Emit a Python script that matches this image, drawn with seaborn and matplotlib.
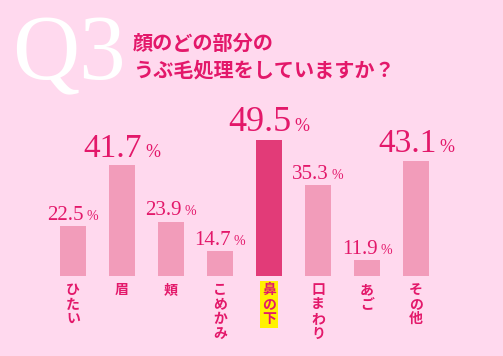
import matplotlib
matplotlib.use("Agg")
import matplotlib.pyplot as plt
import seaborn as sns
from matplotlib.offsetbox import TextArea, HPacker, AnnotationBbox

categories = ["ひたい", "眉", "頬", "こめかみ", "鼻の下", "口まわり", "あご", "その他"]
values = [22.5, 41.7, 23.9, 14.7, 49.5, 35.3, 11.9, 43.1]
highlight = "鼻の下"
title_q = "Q3"
title_lines = ["顔のどの部分の", "うぶ毛処理をしていますか？"]

BG = "#ffd9ee"
BAR = "#f29cba"
BAR_HI = "#e23b78"
TXT = "#e3186a"

sns.set_theme(style="white")
plt.rcParams["font.family"] = ["Noto Sans CJK JP", "DejaVu Sans"]

fig = plt.figure(figsize=(5.03, 3.56), dpi=100)
fig.patch.set_facecolor(BG)
ax = fig.add_axes([48.5 / 503, 80 / 356, 392 / 503, 153.4 / 356])
ax.set_facecolor(BG)

palette = {c: (BAR_HI if c == highlight else BAR) for c in categories}
sns.barplot(x=categories, y=values, hue=categories, palette=palette,
            legend=False, width=0.53, saturation=1, ax=ax, linewidth=0)

ax.set_xlim(-0.5, len(categories) - 0.5)
ax.set_ylim(6.9, 55)
for s in ax.spines.values():
    s.set_visible(False)
ax.set_yticks([])
ax.set_xticks([])
ax.set_xlabel("")
ax.set_ylabel("")

serif = "Liberation Serif"
for i, v in enumerate(values):
    big = v > 40
    num_size = (26 if v == max(values) else 24) if big else 15
    pct_size = 13 if big else 10
    t1 = TextArea(f"{v:.1f}", textprops=dict(family=serif, size=num_size, color=TXT))
    t2 = TextArea("%", textprops=dict(family=serif, size=pct_size, color=TXT))
    box = HPacker(children=[t1, t2], align="baseline", pad=0, sep=2)
    ab = AnnotationBbox(box, (i, v), xybox=(0, 1), xycoords="data",
                        boxcoords="offset points", box_alignment=(0.5, 0.0),
                        frameon=False, pad=0)
    ax.add_artist(ab)

for i, c in enumerate(categories):
    label = "\n".join(list(c))
    kw = dict(ha="center", va="top", fontsize=10, fontweight="bold",
              color=TXT, linespacing=1.05)
    if c == highlight:
        kw["bbox"] = dict(boxstyle="square,pad=0.15", facecolor="#fff200", edgecolor="none")
    ax.annotate(label, (i, 6.9), xytext=(0, -5), textcoords="offset points", **kw)

fig.text(12 / 503, 1 - 79 / 356, title_q, family=serif, fontsize=67,
         color="white", ha="left", va="baseline")
fig.text(133 / 503, 1 - 50 / 356, title_lines[0], fontsize=14.5,
         fontweight="bold", color=TXT, ha="left", va="baseline")
fig.text(133 / 503, 1 - 77 / 356, title_lines[1], fontsize=14.5,
         fontweight="bold", color=TXT, ha="left", va="baseline")

fig.savefig("out.png", dpi=100, facecolor=BG)
